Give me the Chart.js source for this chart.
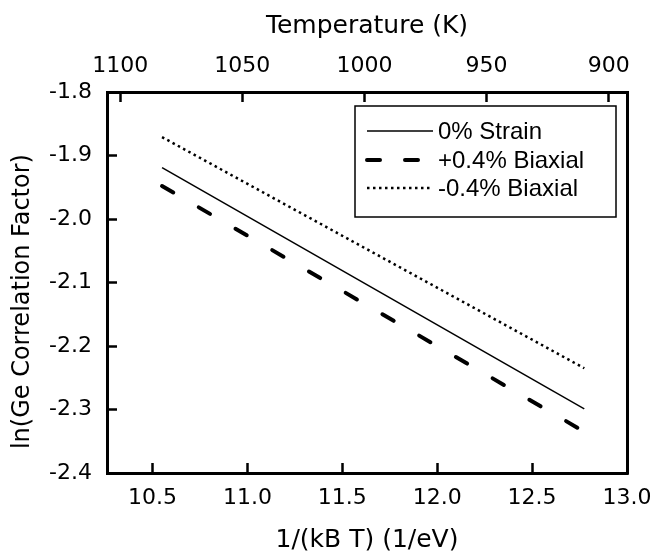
<!DOCTYPE html>
<html>
<head>
<meta charset="utf-8">
<script src="https://cdn.jsdelivr.net/npm/chart.js@4"></script>
<style>
html,body{margin:0;padding:0;background:#fff;}
#wrap{width:653px;height:553px;}
</style>
</head>
<body>
<div id="wrap"><canvas id="c" width="653" height="553"></canvas></div>
<script>
// ---- data ----
const xValues = [10.55, 12.775];
const strain0 = [-1.919, -2.299];
const biaxialPlus = [-1.948, -2.335];
const biaxialMinus = [-1.871, -2.235];
const seriesLabels = ['0% Strain', '+0.4% Biaxial', '-0.4% Biaxial'];
const xTicks = [10.5, 11.0, 11.5, 12.0, 12.5, 13.0];
const yTicks = [-2.4, -2.3, -2.2, -2.1, -2.0, -1.9, -1.8];
const tempTicks = [1100, 1050, 1000, 950, 900];

const pts = (ys) => xValues.map((x, i) => ({x: x, y: ys[i]}));

const TICK_FONT = {family: 'DejaVu Sans', size: 22};
const TITLE_FONT = {family: 'DejaVu Sans', size: 25};

Chart.defaults.color = '#000';

const legendPlugin = {
  id: 'boxLegend',
  afterDraw(chart) {
    const ctx = chart.ctx;
    const bx = 355, by = 106, bw = 261, bh = 111;
    ctx.save();
    ctx.fillStyle = '#fff';
    ctx.fillRect(bx, by, bw, bh);
    ctx.lineWidth = 1.5;
    ctx.strokeStyle = '#000';
    ctx.setLineDash([]);
    ctx.strokeRect(bx, by, bw, bh);
    const rows = [131, 160, 188];
    chart.data.datasets.forEach((ds, i) => {
      const y = rows[i];
      ctx.beginPath();
      ctx.lineWidth = ds.borderWidth;
      ctx.lineCap = ds.borderCapStyle || 'butt';
      ctx.setLineDash(ds.legendDash || ds.borderDash || []);
      ctx.lineDashOffset = 0;
      ctx.moveTo(367, y);
      ctx.lineTo(433, y);
      ctx.stroke();
      ctx.setLineDash([]);
      ctx.fillStyle = '#000';
      ctx.font = '24px "Liberation Sans", Arial, sans-serif';
      ctx.textBaseline = 'middle';
      ctx.textAlign = 'left';
      ctx.fillText(ds.label, 438, y + 1);
    });
    ctx.restore();
  }
};

new Chart(document.getElementById('c'), {
  type: 'line',
  data: {
    datasets: [
      {label: seriesLabels[0], data: pts(strain0), borderColor: '#000', borderWidth: 1.5, pointRadius: 0, fill: false, tension: 0},
      {label: seriesLabels[1], data: pts(biaxialPlus), borderColor: '#000', borderWidth: 4, borderDash: [13, 29.5], legendDash: [13, 25], borderCapStyle: 'round', pointRadius: 0, fill: false, tension: 0},
      {label: seriesLabels[2], data: pts(biaxialMinus), borderColor: '#000', borderWidth: 2.5, borderDash: [2.5, 3.5], pointRadius: 0, fill: false, tension: 0}
    ]
  },
  options: {
    responsive: false,
    animation: false,
    devicePixelRatio: 1,
    layout: {padding: 0},
    plugins: {legend: {display: false}, tooltip: {enabled: false}},
    scales: {
      x: {
        type: 'linear', position: 'bottom', min: 10.26, max: 13.0,
        afterBuildTicks: (s) => { s.ticks = xTicks.map(v => ({value: v})); },
        afterFit: (s) => { s.height = 80; s.paddingLeft = 0; s.paddingRight = 0; },
        ticks: {font: TICK_FONT, padding: 22, maxRotation: 0, autoSkip: false, callback: (v) => Number(v).toFixed(1)},
        grid: {drawOnChartArea: false, tickLength: -10, tickWidth: 2.5, color: '#000'},
        border: {display: true, width: 3, color: '#000'},
        title: {display: true, text: '1/(kB T) (1/eV)', font: {family: 'DejaVu Sans', size: 25, lineHeight: 1}, padding: {top: 0, bottom: 0}}
      },
      x2: {
        type: 'linear', position: 'top', min: 892.5, max: 1105.4, reverse: true,
        afterBuildTicks: (s) => { s.ticks = tempTicks.map(v => ({value: v})); },
        afterFit: (s) => { s.height = 92; s.paddingLeft = 0; s.paddingRight = 0; },
        ticks: {font: TICK_FONT, padding: 23, maxRotation: 0, autoSkip: false, callback: (v) => String(v)},
        grid: {drawOnChartArea: false, tickLength: -10, tickWidth: 2.5, color: '#000'},
        border: {display: true, width: 3, color: '#000'},
        title: {display: true, text: 'Temperature (K)', font: TITLE_FONT, padding: {top: 11, bottom: 0}}
      },
      y: {
        type: 'linear', position: 'left', min: -2.4, max: -1.8,
        afterBuildTicks: (s) => { s.ticks = yTicks.map(v => ({value: v})); },
        afterFit: (s) => { s.width = 107; s.paddingTop = 0; s.paddingBottom = 0; },
        ticks: {font: TICK_FONT, padding: 25, autoSkip: false, callback: (v) => Number(v).toFixed(1)},
        grid: {drawOnChartArea: false, tickLength: -10, tickWidth: 2.5, color: '#000'},
        border: {display: true, width: 3, color: '#000'},
        title: {display: true, text: 'ln(Ge Correlation Factor)     ', font: {family: 'DejaVu Sans', size: 24}, padding: {top: 8, bottom: 0}}
      },
      yRight: {
        type: 'linear', position: 'right', min: 0, max: 1,
        afterFit: (s) => { s.width = 26; },
        ticks: {display: false},
        grid: {drawOnChartArea: false, drawTicks: false},
        border: {display: true, width: 3, color: '#000'}
      }
    }
  },
  plugins: [legendPlugin]
});
</script>
</body>
</html>
